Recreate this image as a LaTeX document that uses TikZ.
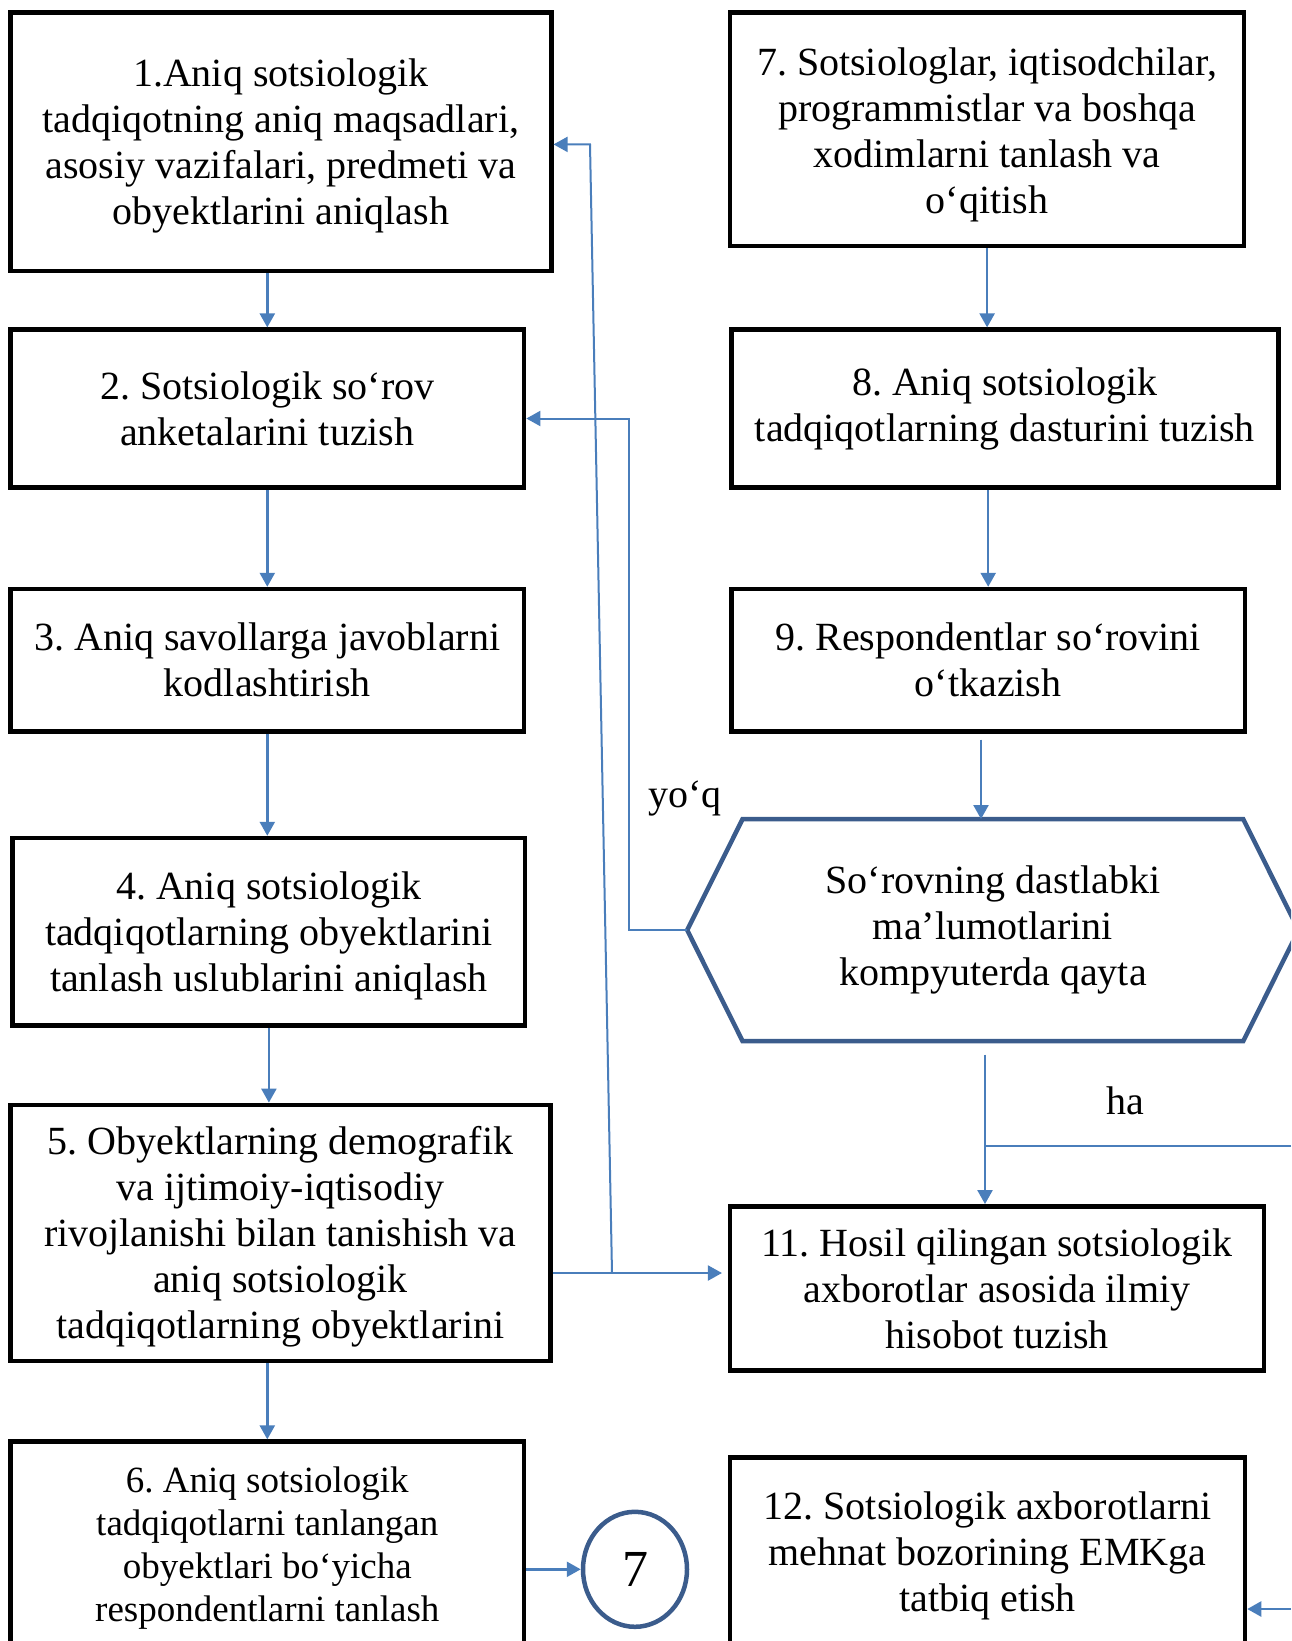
\documentclass[tikz,border=0pt]{standalone}
\usepackage{fontspec}
\setmainfont{Liberation Serif}
\usetikzlibrary{arrows.meta,calc,shapes.geometric}
\definecolor{conn}{RGB}{74,126,187}
\definecolor{navy}{RGB}{59,92,140}
\newcommand{\myup}[1]{\rule{0pt}{#1pt}}
\begin{document}
\frenchspacing
\begin{tikzpicture}[x=1pt,y=-1pt,
  box/.style={draw=black,line width=4.5pt,align=center,inner sep=0pt,font=\fontsize{40}{46}\selectfont\frenchspacing},
  arr/.style={draw=conn,line width=2.4pt,-{Triangle[length=14pt,width=15pt]}},
  thinarr/.style={arr,line width=2pt},
  ln/.style={draw=conn,line width=2pt},
  lbl/.style={inner sep=0pt,font=\fontsize{40}{46}\selectfont}]
\useasboundingbox (0,0) rectangle (1291,1641);
\clip (0,0) rectangle (1291,1641);
% left column
\node[box,minimum width=540.8pt,minimum height=258.4pt] (b1) at (280.9,141.8)
  {\myup{36}1.Aniq sotsiologik\\tadqiqotning aniq maqsadlari,\\asosiy vazifalari, predmeti va\\obyektlarini aniqlash};
\node[box,minimum width=513.6pt,minimum height=157.9pt] (b2) at (267.3,408.6)
  {2. Sotsiologik so‘rov\\anketalarini tuzish};
\node[box,minimum width=513.6pt,minimum height=142.3pt] (b3) at (267.3,660.2)
  {3. Aniq savollarga javoblarni\\kodlashtirish};
\node[box,minimum width=512.6pt,minimum height=187.3pt] (b4) at (268.9,931.7)
  {\myup{36}4. Aniq sotsiologik\\tadqiqotlarning obyektlarini\\tanlash uslublarini aniqlash};
\node[box,minimum width=539.8pt,minimum height=256.3pt] (b5) at (280.4,1233)
  {\myup{35}5. Obyektlarning demografik\\va ijtimoiy-iqtisodiy\\rivojlanishi bilan tanishish va\\aniq sotsiologik\\tadqiqotlarning obyektlarini};
\node[box,minimum width=513.6pt,minimum height=204.2pt,font=\fontsize{37}{43}\selectfont\frenchspacing] (b6) at (267.3,1543.7)
  {\myup{34}6. Aniq sotsiologik\\tadqiqotlarni tanlangan\\obyektlari bo‘yicha\\respondentlarni tanlash};
% right column
\node[box,minimum width=513.8pt,minimum height=233.3pt] (b7) at (987.1,129.3)
  {\myup{38}7. Sotsiologlar, iqtisodchilar,\\programmistlar va boshqa\\xodimlarni tanlash va\\o‘qitish};
\node[box,minimum width=547.2pt,minimum height=157.9pt] (b8) at (1004.9,408.6)
  {8. Aniq sotsiologik\\tadqiqotlarning dasturini tuzish};
\node[box,minimum width=513.7pt,minimum height=142.3pt] (b9) at (988.2,660.2)
  {9. Respondentlar so‘rovini\\o‘tkazish};
\node[inner sep=0pt,align=center,font=\fontsize{40}{46}\selectfont,minimum width=611pt,minimum height=221.8pt] (hex) at (992.9,930.1)
  {So‘rovning dastlabki\\ma’lumotlarini\\kompyuterda qayta};
\draw[navy,line width=4.5pt,line join=miter] (hex.west) -- ([xshift=55.4pt]hex.north west) -- ([xshift=-55.4pt]hex.north east) -- (hex.east) -- ([xshift=-55.4pt]hex.south east) -- ([xshift=55.4pt]hex.south west) -- cycle;
\node[box,minimum width=533.6pt,minimum height=164.2pt] (b11) at (997,1288.4)
  {11. Hosil qilingan sotsiologik\\axborotlar asosida ilmiy\\hisobot tuzish};
\node[box,minimum width=514.8pt,minimum height=190.2pt] (b12) at (987.6,1552.5)
  {\myup{35}12. Sotsiologik axborotlarni\\mehnat bozorining EMKga\\tatbiq etish};
\node[draw=navy,line width=4.5pt,ellipse,minimum width=104pt,minimum height=115pt,inner sep=0pt,font=\fontsize{52}{52}\selectfont] (c7) at (635,1569.3) {7};
% labels
\node[lbl] (yoq) at (685,798) {yo‘q};
\node[lbl] (ha) at (1125.7,1100.6) {ha};
% connectors left column
\draw[arr] (b2.north |- b1.south) -- (b2.north);
\draw[arr] (b2.south) -- (b3.north);
\draw[arr] (b3.south) -- (b3.south |- b4.north);
\draw[arr] (b4.south) -- (b4.south |- b5.north);
\draw[arr] (b6.north |- b5.south) -- (b6.north);
\draw[arr] (b6.east |- c7.west) -- (c7.west);
% right column
\draw[arr] (b7.south) -- (b7.south |- b8.north);
\draw[arr] (b9.north |- b8.south) -- (b9.north);
\coordinate (s9) at (981,739.7);
\draw[arr] (s9) -- (s9 |- hex.north);
\coordinate (sh) at (985,1054.6);
\draw[arr] (sh) -- (sh |- b11.north);
\coordinate (haR) at (1291,1145.6);
\draw[ln] (haR) -- (haR -| sh);
\coordinate (r12) at (1291,1609);
\draw[arr] (r12) -- (r12 -| b12.east);
% feedback lines
\coordinate (y2) at (629,418.5);
\draw[thinarr] (hex.west) -| (y2) -- (b2.east |- y2);
\coordinate (m5) at (612,1273);
\draw[thinarr,shorten >=6pt] (b5.east |- m5) -- (b11.west |- m5);
\coordinate (t1) at (590,144.4);
\draw[thinarr] (m5) -- (t1) -- (b1.east |- t1);
\end{tikzpicture}
\end{document}
